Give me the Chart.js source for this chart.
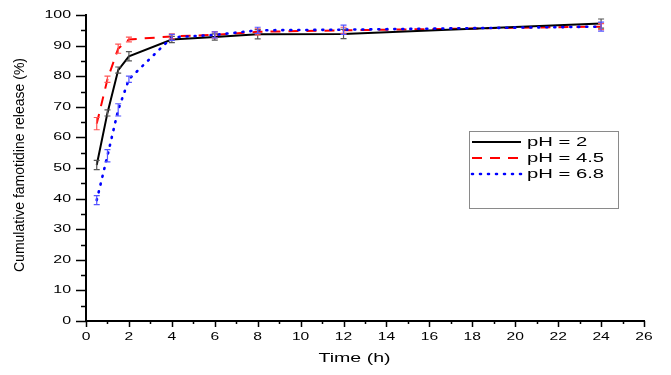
<!DOCTYPE html>
<html><head><meta charset="utf-8">
<script src="https://cdn.jsdelivr.net/npm/chart.js@4"></script>
<style>html,body{margin:0;padding:0;background:#fff}canvas{display:block}</style>
</head><body>
<canvas id="c" width="671" height="375"></canvas>
<script>
const times = [0.5, 1, 1.5, 2, 4, 6, 8, 12, 24];
const ph2 = [51, 68, 82, 86.5, 92, 92.8, 93.7, 93.8, 97.2];
const ph2Err = [1.5, 1, 1, 1.5, 1, 1, 1.5, 1.5, 1.5];
const ph45 = [64.5, 79, 89, 92, 93, 93.5, 94.5, 95, 96.2];
const ph45Err = [2, 1, 1.5, 0.8, 0.8, 1, 1, 1, 1];
const ph68 = [39.5, 54, 69, 79, 92.7, 93.5, 95, 95.2, 96.2];
const ph68Err = [1.5, 2, 2, 1, 1, 1, 1, 1.5, 1.5];
const seriesLabels = ['pH = 2', 'pH = 4.5', 'pH = 6.8'];
const xTickLabels = [0, 2, 4, 6, 8, 10, 12, 14, 16, 18, 20, 22, 24, 26];
const yTickLabels = [0, 10, 20, 30, 40, 50, 60, 70, 80, 90, 100];
const xTitle = 'Time (h)';
const yTitle = 'Cumulative famotidine release (%)';

const toPts = (ys) => times.map((t, i) => ({x: t, y: ys[i]}));

function txt(ctx, s, x, y, size, sx, align, base) {
  ctx.save();
  ctx.translate(x, y);
  ctx.scale(sx, 1);
  ctx.font = size + 'px "Liberation Sans", Arial, sans-serif';
  ctx.fillStyle = '#000';
  ctx.textAlign = align;
  ctx.textBaseline = base;
  ctx.fillText(s, 0, 0);
  ctx.restore();
}

const styles = [
  {color: '#000000', err: '#555555', dash: [], width: 2, cap: 'butt'},
  {color: '#ff0000', err: '#ff5555', dash: [10, 8], width: 2, cap: 'butt'},
  {color: '#0000ff', err: '#5555ff', dash: [1, 7], width: 2.6, cap: 'round'}
];
const errs = [ph2Err, ph45Err, ph68Err];

const custom = {
  id: 'custom',
  afterDatasetsDraw(chart) {
    const ctx = chart.ctx, xs = chart.scales.x, ys = chart.scales.y;
    chart.data.datasets.forEach((ds, di) => {
      ctx.save();
      ctx.strokeStyle = styles[di].err;
      ctx.lineWidth = 1.2;
      ds.data.forEach((p, i) => {
        const e = errs[di][i];
        const px = xs.getPixelForValue(p.x);
        const y1 = ys.getPixelForValue(p.y - e), y2 = ys.getPixelForValue(p.y + e);
        ctx.beginPath();
        ctx.moveTo(px, y1); ctx.lineTo(px, y2);
        ctx.moveTo(px - 3, y1); ctx.lineTo(px + 3, y1);
        ctx.moveTo(px - 3, y2); ctx.lineTo(px + 3, y2);
        ctx.stroke();
      });
      ctx.restore();
    });
  },
  afterDraw(chart) {
    const ctx = chart.ctx, xs = chart.scales.x, ys = chart.scales.y, a = chart.chartArea;
    ctx.save();
    ctx.strokeStyle = '#000';
    ctx.lineWidth = 1.5;
    ctx.beginPath();
    for (let v = 0; v <= 26; v += 1) {
      const px = Math.round(xs.getPixelForValue(v)) + 0.5;
      const len = v % 2 === 0 ? 6 : 3;
      ctx.moveTo(px, a.bottom); ctx.lineTo(px, a.bottom + len);
    }
    for (let v = 0; v <= 100; v += 5) {
      const py = Math.round(ys.getPixelForValue(v)) + 0.5;
      const len = v % 10 === 0 ? 10 : 5;
      ctx.moveTo(a.left - len, py); ctx.lineTo(a.left, py);
    }
    ctx.stroke();
    ctx.restore();

    xTickLabels.forEach(v => txt(ctx, String(v), xs.getPixelForValue(v), 337, 11, 1.42, 'center', 'middle'));
    yTickLabels.forEach(v => txt(ctx, String(v), 71, ys.getPixelForValue(v), 11, 1.45, 'right', 'middle'));
    txt(ctx, xTitle, 354.5, 358.5, 13.5, 1.45, 'center', 'middle');
    ctx.save();
    ctx.translate(20, 165);
    ctx.rotate(-Math.PI / 2);
    txt(ctx, yTitle, 0, 0, 14, 1, 'center', 'middle');
    ctx.restore();

    // legend
    ctx.save();
    ctx.strokeStyle = '#8a8a8a';
    ctx.lineWidth = 1;
    ctx.strokeRect(469.5, 131.5, 149, 77);
    const rows = [142, 158, 174];
    chart.data.datasets.forEach((ds, di) => {
      const st = styles[di];
      ctx.save();
      ctx.strokeStyle = st.color;
      ctx.lineWidth = st.width;
      ctx.setLineDash(st.dash);
      ctx.lineCap = st.cap;
      ctx.beginPath();
      ctx.moveTo(472, rows[di]); ctx.lineTo(521, rows[di]);
      ctx.stroke();
      ctx.restore();
      txt(ctx, ds.label, 527, rows[di] + 0.5, 12.5, 1.62, 'left', 'middle');
    });
    ctx.restore();
  }
};

const datasets = [ph2, ph45, ph68].map((ys, i) => ({
  label: seriesLabels[i],
  data: toPts(ys),
  borderColor: styles[i].color,
  borderWidth: styles[i].width,
  borderDash: styles[i].dash,
  borderCapStyle: styles[i].cap,
  pointRadius: 0,
  tension: 0,
  fill: false,
  order: i === 2 ? 0 : (i === 0 ? 1 : 2)
}));

new Chart(document.getElementById('c'), {
  type: 'line',
  data: {datasets},
  options: {
    responsive: false,
    animation: false,
    layout: {padding: {top: 15, right: 27, left: 0, bottom: 0}},
    plugins: {legend: {display: false}, tooltip: {enabled: false}},
    scales: {
      x: {
        type: 'linear', min: 0, max: 26,
        ticks: {display: false, stepSize: 2},
        grid: {display: false},
        border: {display: true, color: '#000', width: 2},
        afterFit(s) { s.height = 54; s.paddingLeft = 0; s.paddingRight = 0; }
      },
      y: {
        type: 'linear', min: 0, max: 100,
        ticks: {display: false, stepSize: 10},
        grid: {display: false},
        border: {display: true, color: '#000', width: 2},
        afterFit(s) { s.width = 86; s.paddingTop = 0; s.paddingBottom = 0; }
      }
    }
  },
  plugins: [custom]
});
</script>
</body></html>
